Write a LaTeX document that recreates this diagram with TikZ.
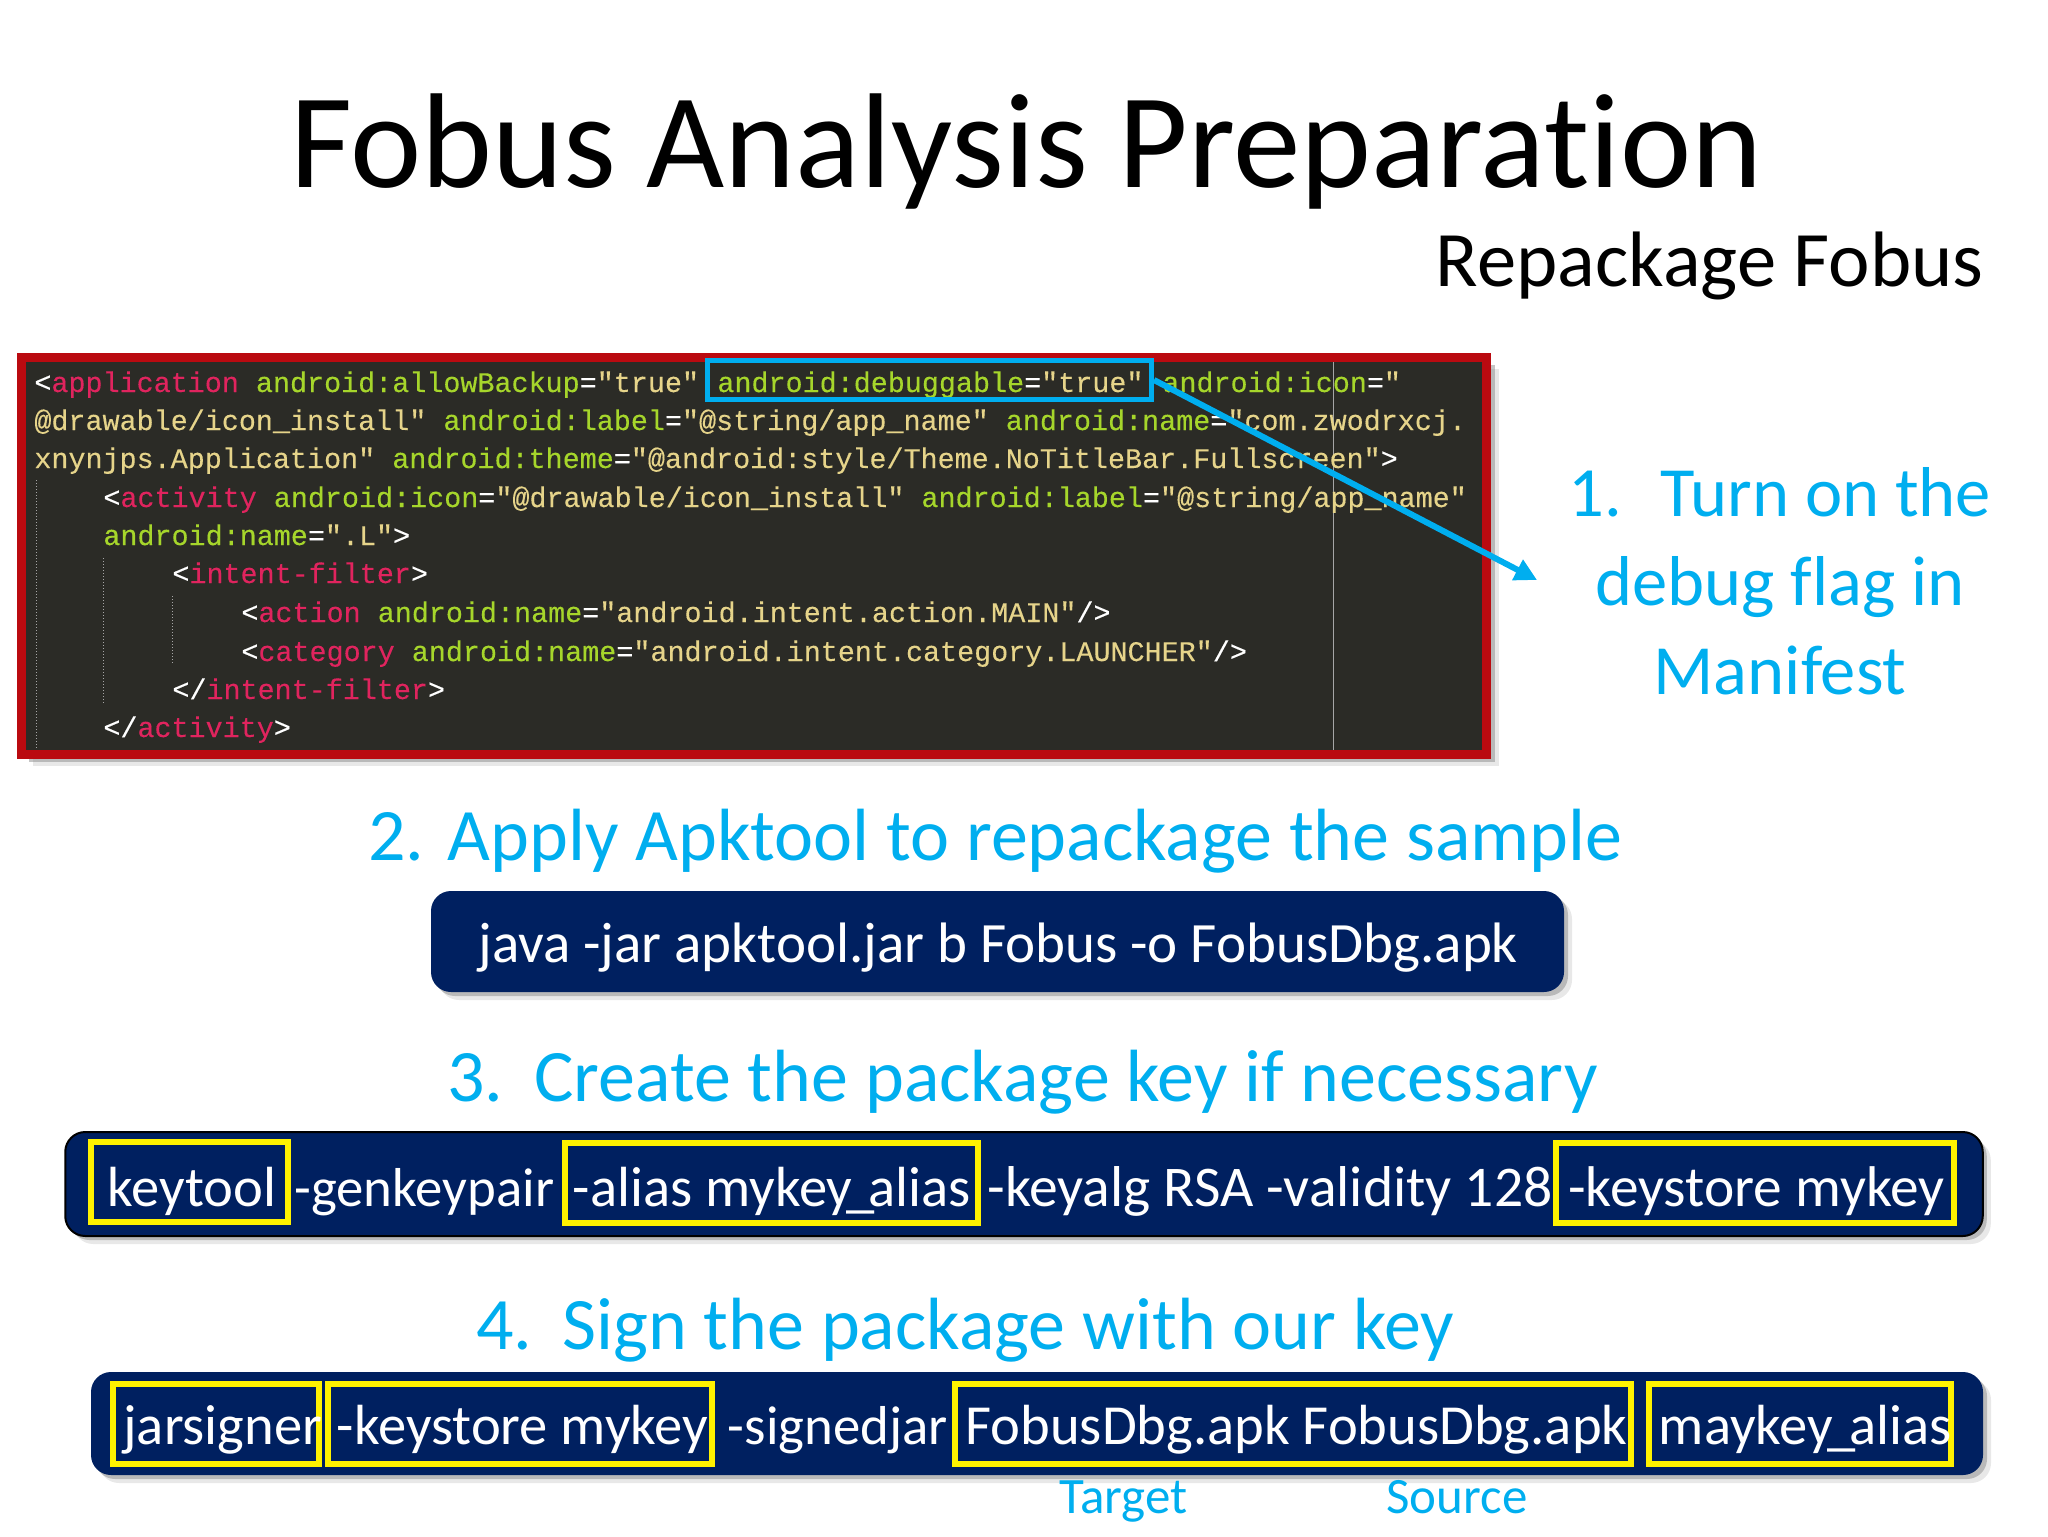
\documentclass[tikz,border=0pt]{standalone}
\usepackage{fontspec}
\setmainfont{Carlito}[Ligatures=NoCommon]
\setmonofont{Liberation Mono}[FakeBold=.2]
\usetikzlibrary{shadows,arrows.meta}
\definecolor{stepcyan}{HTML}{00AEEF}
\definecolor{cmdnavy}{HTML}{002060}
\definecolor{codebg}{HTML}{2B2B26}
\definecolor{codered}{HTML}{BA0A10}
\definecolor{cdtag}{HTML}{E0245E}
\definecolor{cdattr}{HTML}{A6D62B}
\definecolor{cdval}{HTML}{E6D48A}
\newcommand{\tg}[1]{\textcolor{cdtag}{#1}}
\newcommand{\at}[1]{\textcolor{cdattr}{#1}}
\tikzset{
softshadow/.style={
    drop shadow={shadow xshift=#1+2pt,shadow yshift=-#1-2pt,fill=black!30,opacity=.3},
    drop shadow={shadow xshift=#1,shadow yshift=-#1,fill=black!45,opacity=.5}},
softshadow/.default=2pt,
cmdbox/.style={fill=cmdnavy,rounded corners=10pt,softshadow,inner sep=0pt},
keybox/.style={draw=yellow,line width=3pt,inner sep=0pt},
guide/.style={draw=gray!70,densely dotted,line width=.5pt},
codeline/.style={anchor=base west,inner sep=0pt,text=cdval,font=\ttfamily\fontsize{14.2}{17}\selectfont},
steptext/.style={anchor=base west,inner sep=0pt,text=stepcyan,font=\fontsize{37}{44}\selectfont},
cmdtext/.style={anchor=base west,inner sep=0pt,text=white,font=\fontsize{28.3}{34}\selectfont},
roletext/.style={anchor=base west,inner sep=0pt,text=stepcyan,font=\fontsize{25.5}{30}\selectfont},
}
\begin{document}
\begin{tikzpicture}[x=0.5pt,y=-0.5pt]
    \useasboundingbox (0,0) rectangle (2048,1536);
    % heading
    \node[anchor=base west,inner sep=0pt,font=\fontsize{67.5}{78}\selectfont] (title) at (290,187) {Fobus Analysis Preparation};
    \node[anchor=base east,inner sep=0pt,font=\fontsize{39.3}{48}\selectfont] (subtitle) at (1984,286) {Repackage Fobus};

    % manifest listing
    \node[draw=codered,fill=codebg,line width=4.5pt,minimum width=732.75pt,minimum height=198.5pt,softshadow=4pt] (listing) at (754,555.5) {};
    \draw[gray!70,line width=.5pt] (1333,362) -- (1333,750);
    \path[guide] (36,480) -- (36,750);
    \path[guide] (103.5,558) -- (103.5,705);
    \path[guide] (172,596) -- (172,665);
    \node[codeline] (l1a) at (34,392) {\textcolor{white}{<}\tg{application} \at{android:allowBackup}\textcolor{white}{=}"true"};
    \node[codeline] (l1b) at (717,392) {\at{android:debuggable}\textcolor{white}{=}"true"};
    \node[codeline] (l1c) at (1162,392) {\at{android:icon}\textcolor{white}{=}"};
    \node[codeline] (l2) at (34,430) {@drawable/icon\_install" \at{android:label}\textcolor{white}{=}"@string/app\_name" \at{android:name}\textcolor{white}{=}"com.zwodrxcj.};
    \node[codeline] (l3) at (34,468) {xnynjps.Application" \at{android:theme}\textcolor{white}{=}"@android:style/Theme.NoTitleBar.Fullscreen"\textcolor{white}{>}};
    \node[codeline] (l4) at (103,507) {\textcolor{white}{<}\tg{activity} \at{android:icon}\textcolor{white}{=}"@drawable/icon\_install" \at{android:label}\textcolor{white}{=}"@string/app\_name"};
    \node[codeline] (l5) at (103,545) {\at{android:name}\textcolor{white}{=}".L"\textcolor{white}{>}};
    \node[codeline] (l6) at (172,583) {\textcolor{white}{<}\tg{intent-filter}\textcolor{white}{>}};
    \node[codeline] (l7) at (241,622) {\textcolor{white}{<}\tg{action} \at{android:name}\textcolor{white}{=}"android.intent.action.MAIN"\textcolor{white}{/>}};
    \node[codeline] (l8) at (241,661) {\textcolor{white}{<}\tg{category} \at{android:name}\textcolor{white}{=}"android.intent.category.LAUNCHER"\textcolor{white}{/>}};
    \node[codeline] (l9) at (172,699) {\textcolor{white}{</}\tg{intent-filter}\textcolor{white}{>}};
    \node[codeline] (l10) at (103,737) {\textcolor{white}{</}\tg{activity}\textcolor{white}{>}};

    % debug flag callout
    \node[draw=stepcyan,line width=2.5pt,minimum width=222pt,minimum height=19.5pt,inner sep=0pt] (dbgflag) at (929.5,380) {};
    \coordinate (flagtip) at (1537,580);
    \draw[stepcyan,line width=3pt,-{Triangle[length=11pt,width=11pt]}] (dbgflag.east) -- (flagtip);
    \node[inner sep=0pt,align=center,text=stepcyan,font=\fontsize{35.3}{44.5}\selectfont,anchor=base] (step1) at (1780,694) {1.\hspace{19pt}Turn on the\\debug flag in\\Manifest};

    % apktool
    \node[steptext] (step2) at (368,860) {2.\hspace{11.7pt}Apply Apktool to repackage the sample};
    \node[cmdbox,minimum width=566.5pt,minimum height=50.5pt] (cmdapk) at (997.5,941.5) {};
    \node[cmdtext,font=\fontsize{28.5}{34}\selectfont] (apktxt) at (478,962) {java -jar apktool.jar b Fobus -o FobusDbg.apk};

    % keytool
    \node[steptext] (step3) at (447,1101) {3.\hspace{15.5pt}Create the package key if necessary};
    \node[cmdbox,draw=black,line width=1pt,minimum width=958.75pt,minimum height=52pt] (cmdkey) at (1024,1184) {};
    \node[keybox,minimum width=98.5pt,minimum height=40pt] (kbtool) at (189.5,1182) {};
    \node[keybox,minimum width=206.5pt,minimum height=40pt] (kbalias) at (771.5,1183) {};
    \node[keybox,minimum width=198.75pt,minimum height=40pt] (kbstore) at (1755,1183) {};
    \node[cmdtext] (t1) at (107,1206) {keytool};
    \node[cmdtext,font=\fontsize{27.4}{33}\selectfont] (t2) at (294,1206) {-genkeypair};
    \node[cmdtext] (t3) at (572.5,1206) {-alias mykey\hspace{-3pt}\_\hspace{-3pt}alias};
    \node[cmdtext,font=\fontsize{28.8}{34}\selectfont] (t4) at (987,1206) {-keyalg RSA -validity 128};
    \node[cmdtext,font=\fontsize{28.7}{34}\selectfont] (t5) at (1568,1206) {-keystore mykey};

    % jarsigner
    \node[steptext] (step4) at (476,1349) {4.\hspace{15pt}Sign the package with our key};
    \node[cmdbox,minimum width=946pt,minimum height=51.5pt] (cmdsign) at (1037,1423.5) {};
    \node[keybox,minimum width=103.25pt,minimum height=40pt] (kbjar) at (216,1424) {};
    \node[keybox,minimum width=192pt,minimum height=40pt] (kbsign) at (520,1424) {};
    \node[keybox,minimum width=338pt,minimum height=40pt] (kbapk) at (1293,1424) {};
    \node[keybox,minimum width=151.25pt,minimum height=40pt] (kbmay) at (1800,1424) {};
    \node[cmdtext] (s1) at (123,1444) {jarsigner};
    \node[cmdtext] (s2) at (336.5,1444) {-keystore mykey};
    \node[cmdtext,font=\fontsize{27.4}{33}\selectfont] (s3) at (727.5,1444) {-signedjar};
    \node[cmdtext] (s4) at (965,1444) {FobusDbg.apk FobusDbg.apk};
    \node[cmdtext] (s5) at (1658.5,1444) {maykey\hspace{-3pt}\_\hspace{-3pt}alias};
    \node[roletext] (target) at (1059,1513) {Target};
    \node[roletext] (source) at (1386,1513) {Source};
\end{tikzpicture}
\end{document}
